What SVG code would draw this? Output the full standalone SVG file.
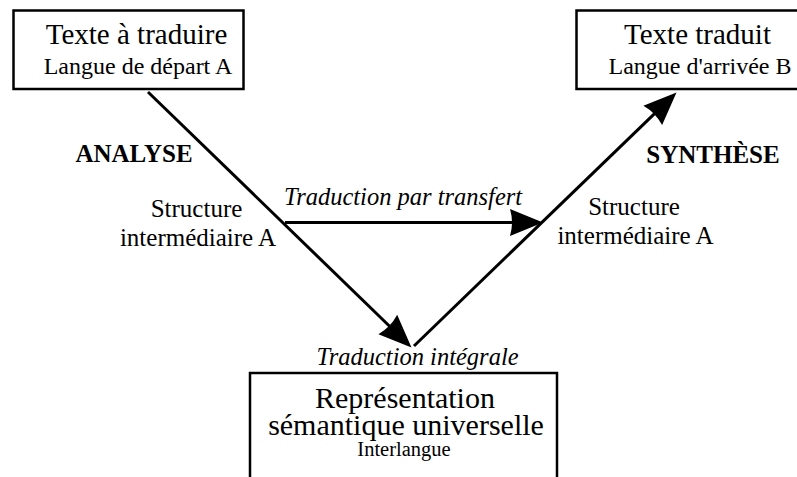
<svg xmlns="http://www.w3.org/2000/svg" width="797" height="477" viewBox="0 0 797 477">
<style>
text{fill:#000}
.box{fill:#fff;stroke:#000;stroke-width:2.5}
.t1{font-size:29px;text-anchor:middle}
.t2{font-size:24px;text-anchor:middle}
.lbl{font-size:25px;text-anchor:middle}
.it{font-size:24.5px;font-style:italic;text-anchor:middle}
.bd{font-size:25px;font-weight:bold;text-anchor:middle}
.con{fill:none;stroke:#000;stroke-width:3;marker-end:url(#ah)}
</style>
<defs>
<marker id="ah" markerUnits="userSpaceOnUse" markerWidth="34" markerHeight="28" refX="23" refY="14" orient="auto" overflow="visible">
<path d="M0,0.5 L33,14 L0,27.5 Q4,14 0,0.5 Z" fill="#000"/>
</marker>
</defs>
<rect width="797" height="477" fill="#fff"/>
<g id="connectors">
<line class="con" x1="148" y1="92" x2="404.3" y2="340.5"/>
<line class="con" x1="414" y1="346" x2="669.3" y2="99.4"/>
<line class="con" x1="285" y1="222.5" x2="533" y2="222.5"/>
</g>
<g id="source" font-family="Liberation Serif">
<rect class="box" x="13.5" y="10.5" width="230" height="78.5"/>
<text class="t1" x="136.5" y="44">Texte à traduire</text>
<text class="t2" x="138" y="74">Langue de départ A</text>
</g>
<g id="target" font-family="Liberation Serif">
<rect class="box" x="576.5" y="10.5" width="240" height="78.5"/>
<text class="t1" x="697.5" y="44">Texte traduit</text>
<text class="t2" x="700" y="74">Langue d'arrivée B</text>
</g>
<g id="interlingua" font-family="Liberation Serif">
<rect class="box" x="250" y="373" width="307" height="130"/>
<text x="405" y="408" font-size="30" text-anchor="middle">Représentation</text>
<text x="406" y="435" font-size="30" text-anchor="middle">sémantique universelle</text>
<text x="404" y="456" font-size="20.5" text-anchor="middle">Interlangue</text>
</g>
<g id="labels" font-family="Liberation Serif">
<text class="bd" x="134" y="162">ANALYSE</text>
<text class="bd" x="713" y="163">SYNTHÈSE</text>
<text class="lbl" x="196.5" y="217">Structure</text>
<text class="lbl" x="198" y="246">intermédiaire A</text>
<text class="lbl" x="634" y="215">Structure</text>
<text class="lbl" x="635.5" y="244">intermédiaire A</text>
<text class="it" x="403" y="205">Traduction par transfert</text>
<text class="it" x="417.5" y="365">Traduction intégrale</text>
</g>
</svg>
